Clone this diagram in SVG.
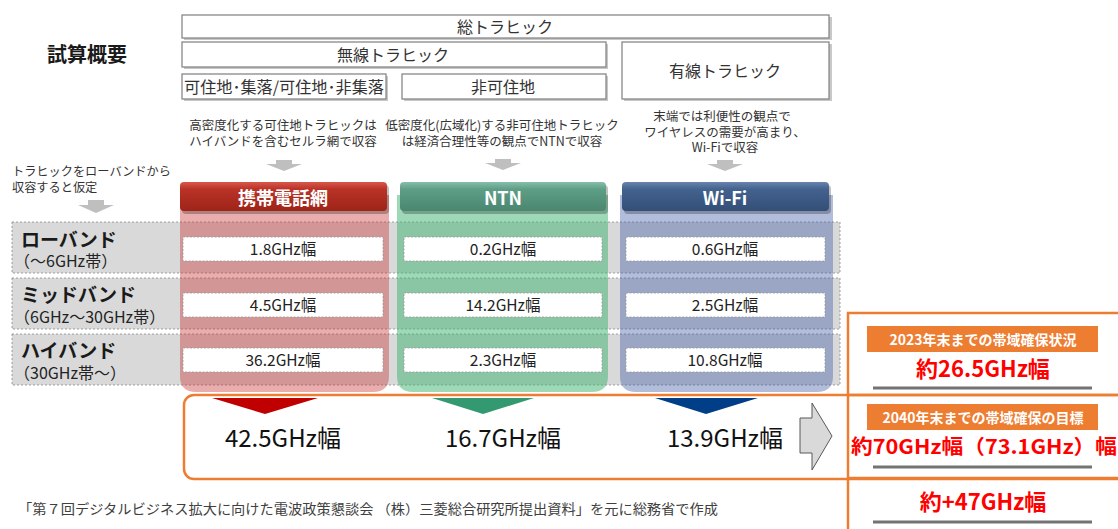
<svg xmlns="http://www.w3.org/2000/svg" width="1118" height="529" viewBox="0 0 1118 529">
<style>
text{font-family:"Noto Sans CJK JP","Noto Sans",sans-serif;}
.box{fill:#fff;stroke:#7f7f7f;stroke-width:1.2;}
.sh{fill:#c8c8c8;}
.t16{font-size:16px;fill:#333;text-anchor:middle;}
.desc{font-size:12.5px;fill:#333;text-anchor:middle;}
.row{fill:#d9d9d9;stroke:#8c8c8c;stroke-width:0.8;stroke-dasharray:2 2;}
.lbl{font-size:19px;font-weight:bold;fill:#1a1a1a;}
.sub{font-size:16px;fill:#222;}
.val{fill:#fff;stroke:#9a9a9a;stroke-width:0.8;stroke-dasharray:2 1.5;}
.vt{font-size:15.5px;fill:#222;text-anchor:middle;}
.hd{font-size:18px;font-weight:bold;fill:#fff;text-anchor:middle;}
.big{font-size:24px;fill:#111;text-anchor:middle;}
.arr{fill:#bfbfbf;}
.or{fill:none;stroke:#ed7d31;stroke-width:2.5;}
.ob{fill:#ed7d31;}
.ot{font-size:14px;font-weight:bold;fill:#fff;text-anchor:middle;}
.rt{font-size:22px;font-weight:bold;fill:#ff0000;text-anchor:middle;}
.gl{stroke:#737373;stroke-width:3;}
</style>
<defs>
<linearGradient id="gR" x1="0" y1="0" x2="0" y2="1"><stop offset="0" stop-color="#d9574a"/><stop offset="0.25" stop-color="#b93227"/><stop offset="1" stop-color="#9e2418"/></linearGradient>
<linearGradient id="gG" x1="0" y1="0" x2="0" y2="1"><stop offset="0" stop-color="#86bfa9"/><stop offset="0.25" stop-color="#5e9e86"/><stop offset="1" stop-color="#4a8670"/></linearGradient>
<linearGradient id="gB" x1="0" y1="0" x2="0" y2="1"><stop offset="0" stop-color="#6884ad"/><stop offset="0.25" stop-color="#43628e"/><stop offset="1" stop-color="#334f78"/></linearGradient>
</defs>

<g id="title"><text x="47" y="62" font-size="20" font-weight="bold" fill="#1a1a1a">試算概要</text></g>

<g id="total-traffic">
<rect class="sh" x="184" y="17" width="648" height="23"/>
<rect class="box" x="182" y="15" width="647" height="23"/>
<text class="t16" x="505" y="33">総トラヒック</text>
</g>
<g id="wireless-traffic">
<rect class="sh" x="184" y="44" width="424" height="25"/>
<rect class="box" x="182" y="42" width="424" height="25"/>
<text class="t16" x="393" y="61">無線トラヒック</text>
</g>
<g id="wired-traffic">
<rect class="sh" x="624" y="44" width="208" height="57"/>
<rect class="box" x="622" y="42" width="207" height="57"/>
<text class="t16" x="725" y="77" font-size="17">有線トラヒック</text>
</g>
<g id="habitable">
<rect class="sh" x="184" y="76" width="204" height="25"/>
<rect class="box" x="182" y="74" width="204" height="25"/>
<text x="184" y="93" font-size="16" fill="#333" textLength="200" lengthAdjust="spacingAndGlyphs">可住地･集落/可住地･非集落</text>
</g>
<g id="non-habitable">
<rect class="sh" x="404" y="76" width="204" height="25"/>
<rect class="box" x="402" y="74" width="204" height="25"/>
<text class="t16" x="503" y="93">非可住地</text>
</g>

<g id="descriptions">
<text class="desc" x="283" y="130">高密度化する可住地トラヒックは</text>
<text class="desc" x="283" y="146">ハイバンドを含むセルラ網で収容</text>
<text class="desc" x="502" y="130">低密度化(広域化)する非可住地トラヒック</text>
<text class="desc" x="502" y="146">は経済合理性等の観点でNTNで収容</text>
<text class="desc" x="722" y="121">末端では利便性の観点で</text>
<text class="desc" x="725" y="136.5">ワイヤレスの需要が高まり、</text>
<text class="desc" x="725" y="152">Wi-Fiで収容</text>
<text x="12" y="176" font-size="12.2" fill="#333">トラヒックをローバンドから</text>
<text x="12" y="191.5" font-size="12.2" fill="#333">収容すると仮定</text>
</g>

<g id="small-arrows">
<polygon class="arr" points="276,160 292,160 292,164 302,164 284,171 266,164 276,164"/>
<polygon class="arr" points="495,159 511,159 511,163 521,163 503,170 485,163 495,163"/>
<polygon class="arr" points="717,160 733,160 733,164 743,164 725,171 707,164 717,164"/>
<polygon class="arr" points="88,200 104,200 104,205 114,205 96,213 78,205 88,205"/>
</g>

<g id="rows">
<rect class="row" x="12" y="222" width="828" height="51"/>
<rect class="row" x="12" y="278" width="828" height="51"/>
<rect class="row" x="12" y="334" width="828" height="51"/>
<text class="lbl" x="21" y="247">ローバンド</text>
<text class="sub" x="14" y="267">（～6GHz帯）</text>
<text class="lbl" x="21" y="302">ミッドバンド</text>
<text class="sub" x="14" y="322.5">（6GHz～30GHz帯）</text>
<text class="lbl" x="21" y="358">ハイバンド</text>
<text class="sub" x="14" y="378.5">（30GHz帯～）</text>
</g>

<g id="column-cellular">
<path d="M180,195 H389 V376 Q389,392 373,392 H196 Q180,392 180,376 Z" fill="#c83232" fill-opacity="0.4"/>
<rect x="182" y="185" width="207" height="29" rx="4" fill="#000" opacity="0.25"/>
<rect x="180" y="182" width="207" height="29" rx="4" fill="url(#gR)"/>
<text class="hd" x="283" y="205">携帯電話網</text>
<rect class="val" x="183" y="237" width="200" height="24"/><text class="vt" x="283" y="255">1.8GHz幅</text>
<rect class="val" x="183" y="293" width="200" height="24"/><text class="vt" x="283" y="311">4.5GHz幅</text>
<rect class="val" x="183" y="348" width="200" height="24"/><text class="vt" x="283" y="366">36.2GHz幅</text>
</g>

<g id="column-ntn">
<path d="M397,195 H608 V376 Q608,392 592,392 H413 Q397,392 397,376 Z" fill="#3cb46e" fill-opacity="0.5"/>
<rect x="402" y="185" width="206" height="29" rx="4" fill="#000" opacity="0.25"/>
<rect x="400" y="182" width="206" height="29" rx="4" fill="url(#gG)"/>
<text class="hd" x="503" y="205" font-size="20">NTN</text>
<rect class="val" x="404" y="237" width="198" height="24"/><text class="vt" x="503" y="255">0.2GHz幅</text>
<rect class="val" x="404" y="293" width="198" height="24"/><text class="vt" x="503" y="311">14.2GHz幅</text>
<rect class="val" x="404" y="348" width="198" height="24"/><text class="vt" x="503" y="366">2.3GHz幅</text>
</g>

<g id="column-wifi">
<path d="M620,195 H833 V376 Q833,392 817,392 H636 Q620,392 620,376 Z" fill="#3f5aa8" fill-opacity="0.4"/>
<rect x="624" y="185" width="207" height="29" rx="4" fill="#000" opacity="0.25"/>
<rect x="622" y="182" width="207" height="29" rx="4" fill="url(#gB)"/>
<text class="hd" x="725" y="205" font-size="20">Wi-Fi</text>
<rect class="val" x="626" y="237" width="199" height="24"/><text class="vt" x="725" y="255">0.6GHz幅</text>
<rect class="val" x="626" y="293" width="199" height="24"/><text class="vt" x="725" y="311">2.5GHz幅</text>
<rect class="val" x="626" y="348" width="199" height="24"/><text class="vt" x="725" y="366">10.8GHz幅</text>
</g>

<g id="totals">
<rect class="or" x="184" y="395" width="960" height="84" rx="10"/>
<polygon points="212,398 318,398 265,414" fill="#c00000"/>
<polygon points="432,398 534,398 483,414" fill="#339970"/>
<polygon points="655,398 758,398 706,414" fill="#003f87"/>
<text class="big" x="283" y="447">42.5GHz幅</text>
<text class="big" x="503" y="447">16.7GHz幅</text>
<text class="big" x="725" y="447">13.9GHz幅</text>
</g>

<g id="connectors">
<polygon points="800,418 812,418 812,403 832,436 812,470 812,453 800,453" fill="#d9d9d9" stroke="#595959" stroke-width="1"/>
</g>

<g id="summary-panel">
<rect x="848" y="313" width="290" height="230" fill="#fff" class="or"/>
<line x1="848" y1="395" x2="1118" y2="395" stroke="#ed7d31" stroke-width="2.5"/>
<line x1="848" y1="478" x2="1118" y2="478" stroke="#ed7d31" stroke-width="2.5"/>
<rect class="ob" x="867" y="326" width="231" height="26"/>
<text class="ot" x="983" y="345">2023年末までの帯域確保状況</text>
<text class="rt" x="983" y="377">約26.5GHz幅</text>
<line class="gl" x1="873" y1="388" x2="1092" y2="388"/>
<rect class="ob" x="867" y="404" width="231" height="26"/>
<text class="ot" x="983" y="423">2040年末までの帯域確保の目標</text>
<text x="851" y="454" font-size="20" font-weight="bold" fill="#ff0000" textLength="266" lengthAdjust="spacingAndGlyphs">約70GHz幅（73.1GHz）幅</text>
<line class="gl" x1="873" y1="467" x2="1092" y2="467"/>
<text class="rt" x="983" y="510">約+47GHz幅</text>
<line class="gl" x1="873" y1="522" x2="1092" y2="522"/>
</g>

<g id="footer">
<text x="18" y="514" font-size="13.5" fill="#404040" textLength="700" lengthAdjust="spacingAndGlyphs">「第７回デジタルビジネス拡大に向けた電波政策懇談会 （株）三菱総合研究所提出資料」を元に総務省で作成</text>
</g>
</svg>
